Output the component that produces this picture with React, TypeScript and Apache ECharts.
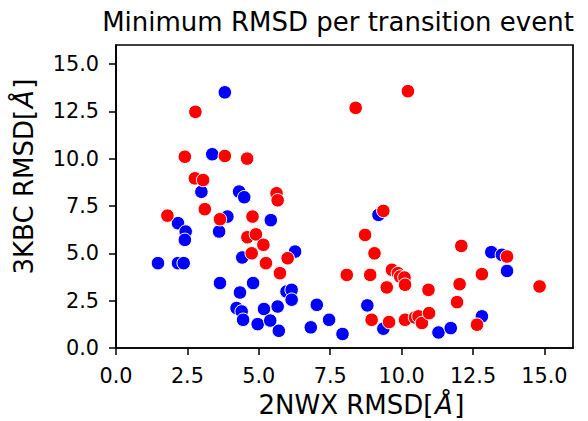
import React, { useEffect, useRef } from "react";
import * as echarts from "echarts";

const titleText = "Minimum RMSD per transition event";
const xLabelParts = ["2NWX RMSD[", "Å", "]"];
const yLabelParts = ["3KBC RMSD[", "Å", "]"];
const tickValues = [0, 2.5, 5, 7.5, 10, 12.5, 15];

const bluePoints: number[][] = [
  [3.81, 13.5], [3.37, 10.23], [2.99, 8.25], [4.31, 8.26], [4.49, 7.96],
  [3.9, 6.94], [3.61, 6.15], [5.42, 6.75], [2.17, 6.59], [2.44, 6.15],
  [2.41, 5.71], [1.47, 4.48], [2.17, 4.48], [2.37, 4.48], [9.19, 7.03],
  [4.42, 4.78], [6.27, 5.09], [3.64, 3.43], [4.8, 3.43], [4.34, 2.93],
  [4.22, 2.11], [4.4, 1.93], [4.45, 1.49], [4.96, 1.26], [5.18, 2.06],
  [5.4, 1.45], [5.97, 2.98], [6.15, 3.07], [6.15, 2.55], [5.66, 2.19],
  [5.7, 0.91], [7.03, 2.28], [6.82, 1.09], [7.46, 1.49], [7.93, 0.74],
  [8.8, 2.25], [9.36, 1.02], [11.29, 0.82], [11.72, 1.05], [12.81, 1.67],
  [13.14, 5.06], [13.51, 4.92], [13.69, 4.07],
];

const redPoints: number[][] = [
  [2.78, 12.47], [8.39, 12.68], [10.22, 13.56], [2.41, 10.1], [3.81, 10.14],
  [4.59, 10.0], [2.76, 8.96], [3.05, 8.87], [5.62, 8.17], [5.66, 7.8],
  [3.11, 7.33], [3.64, 6.8], [1.8, 6.99], [4.78, 6.94], [9.36, 7.24],
  [4.6, 5.85], [4.9, 6.0], [5.16, 5.45], [4.75, 5.0], [5.25, 4.48],
  [6.01, 4.74], [5.74, 3.95], [8.72, 5.97], [9.05, 5.0], [8.08, 3.86],
  [8.9, 3.86], [8.95, 1.49], [9.56, 1.37], [9.48, 3.2], [9.66, 4.13],
  [9.87, 3.95], [9.95, 3.77], [10.1, 3.72], [10.12, 3.34], [10.94, 3.07],
  [10.12, 1.49], [10.47, 1.61], [10.59, 1.67], [10.71, 1.32], [10.96, 1.84],
  [12.09, 5.39], [13.69, 4.83], [12.81, 3.9], [12.03, 3.37], [11.94, 2.42],
  [14.83, 3.25], [12.64, 1.23],
];

const FONT = "DejaVu Sans";
const LABEL_SIZE = 26;

// Builds a label "text[Å]" from separate pieces, with an italic Å.
function labelChildren(parts: string[], firstWidth: number) {
  const aWidth = 0.684 * LABEL_SIZE;
  const gap = 1.5;
  const base = {
    fontFamily: FONT,
    fontSize: LABEL_SIZE,
    lineHeight: 20,
    fill: "#000",
    align: "left",
    verticalAlign: "middle",
  };
  return [
    { type: "text", x: 0, y: 0, style: { ...base, text: parts[0] } },
    { type: "text", x: firstWidth + gap, y: 0, style: { ...base, text: parts[1], fontStyle: "italic" } },
    { type: "text", x: firstWidth + gap + aWidth + gap, y: 0, style: { ...base, text: parts[2] } },
  ];
}

export default function App() {
  const ref = useRef<HTMLDivElement>(null);
  useEffect(() => {
    if (!ref.current) return;
    const chart = echarts.init(ref.current, undefined, { renderer: "svg" });
    const axisCommon = {
      type: "value" as const,
      min: 0,
      max: 16,
      interval: 2.5,
      splitLine: { show: false },
      axisLine: { show: true, lineStyle: { color: "#000", width: 1.7 } },
      axisTick: {
        show: true,
        inside: false,
        length: 7,
        lineStyle: { color: "#000", width: 1.5 },
        customValues: tickValues,
      },
      axisLabel: {
        fontFamily: FONT,
        fontSize: 20.8,
        color: "#000",
        margin: 17,
        customValues: tickValues,
        formatter: (v: number) => v.toFixed(1),
      },
    };
    const xFirst = 6.729 * LABEL_SIZE;
    const yFirst = 6.347 * LABEL_SIZE;
    chart.setOption({
      animation: false,
      backgroundColor: "#fff",
      grid: {
        left: 116,
        top: 45,
        right: 15,
        bottom: 73,
        show: true,
        borderColor: "#000",
        borderWidth: 1.7,
        backgroundColor: "#fff",
      },
      xAxis: { ...axisCommon },
      yAxis: { ...axisCommon },
      graphic: [
        {
          type: "text",
          x: 338,
          y: 22,
          style: {
            text: titleText,
            fontFamily: FONT,
            fontSize: 26,
            lineHeight: 26,
            fill: "#000",
            align: "center",
            verticalAlign: "middle",
          },
        },
        {
          type: "group",
          x: 258.5,
          y: 405,
          children: labelChildren(xLabelParts, xFirst),
        },
        {
          type: "group",
          x: 24,
          y: 274.5,
          rotation: Math.PI / 2,
          children: labelChildren(yLabelParts, yFirst),
        },
      ],
      series: [
        {
          type: "scatter",
          data: bluePoints,
          symbolSize: 13.5,
          itemStyle: { color: "#0000ff", borderColor: "#fff", borderWidth: 1, opacity: 1 },
        },
        {
          type: "scatter",
          data: redPoints,
          symbolSize: 13.5,
          itemStyle: { color: "#ff0000", borderColor: "#fff", borderWidth: 1, opacity: 1 },
        },
      ],
    });
    return () => chart.dispose();
  }, []);
  return <div ref={ref} style={{ width: 588, height: 421, position: "fixed", left: 0, top: 0 }} />;
}
